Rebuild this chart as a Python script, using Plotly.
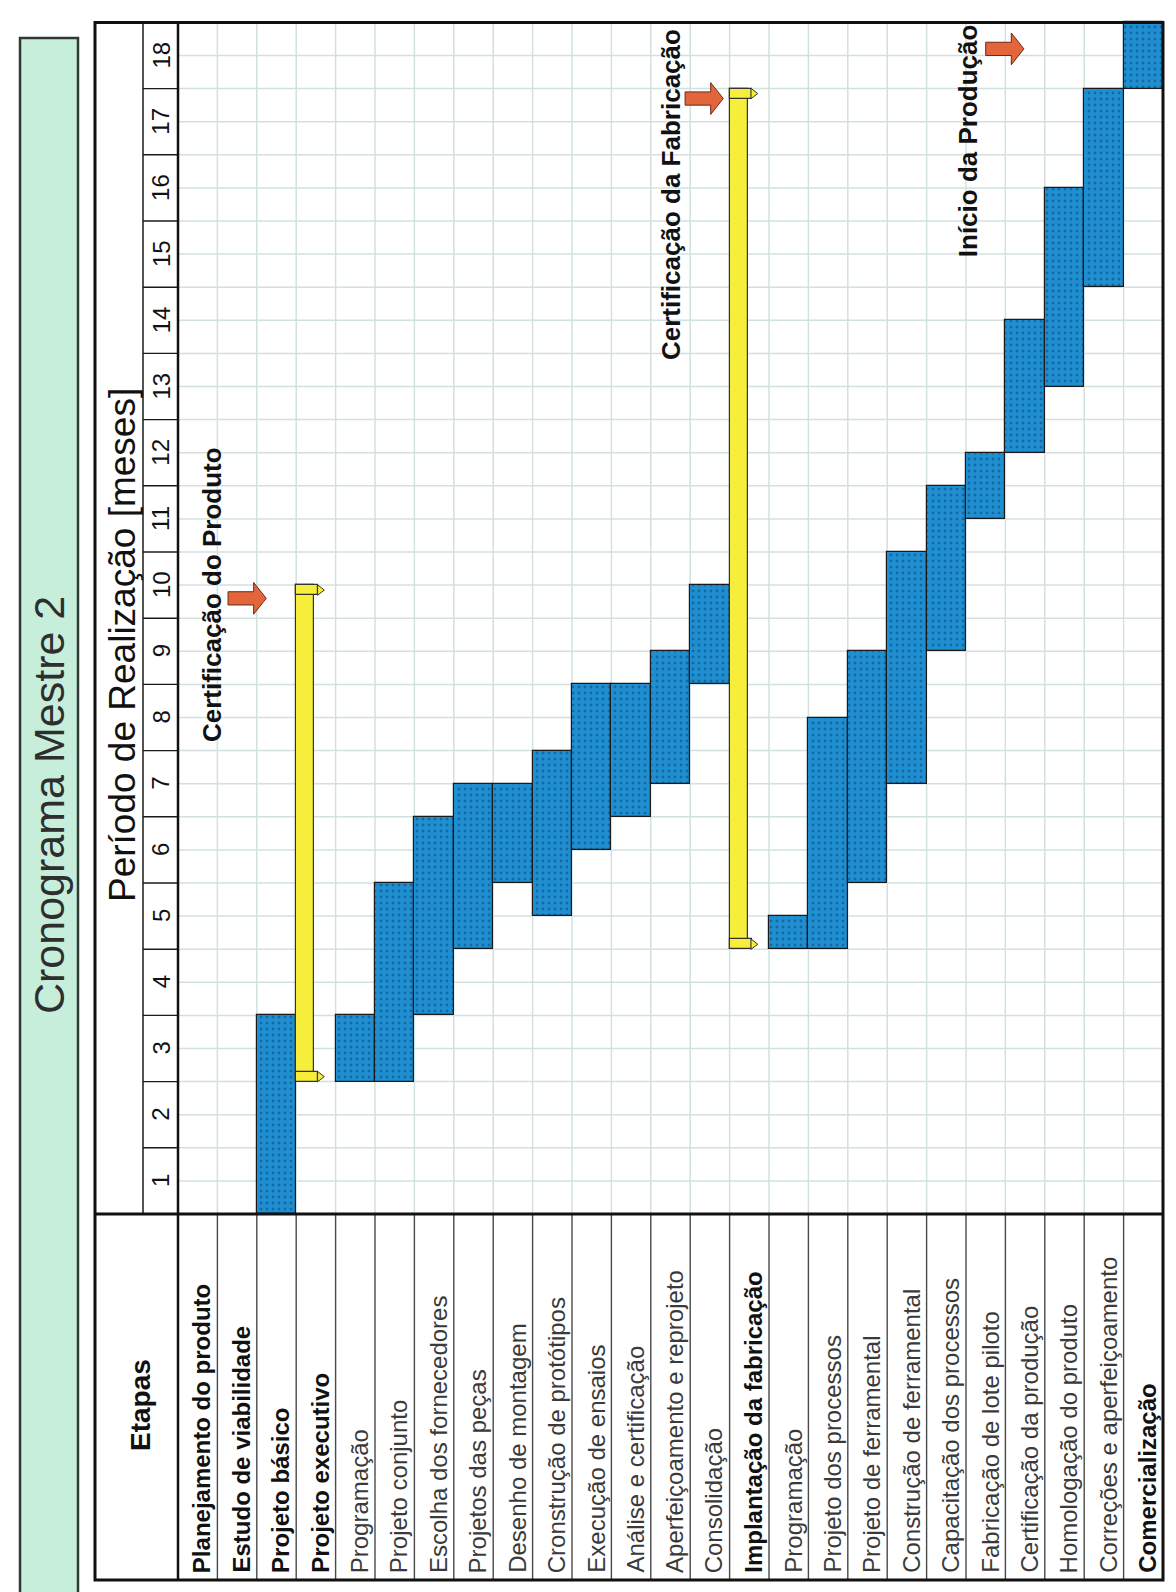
import plotly.graph_objects as go

# ---------------------------------------------------------------- data
etapas = [
    "Planejamento do produto", "Estudo de viabilidade", "Projeto básico", "Projeto executivo",
    "Programação", "Projeto conjunto", "Escolha dos fornecedores", "Projetos das peças",
    "Desenho de montagem", "Cronstrução de protótipos", "Execução de ensaios",
    "Análise e certificação", "Aperfeiçoamento e reprojeto", "Consolidação",
    "Implantação da fabricação", "Programação", "Projeto dos processos",
    "Projeto de ferramental", "Construção de ferramental", "Capacitação dos processos",
    "Fabricação de lote piloto", "Certificação da produção", "Homologação do produto",
    "Correções e aperfeiçoamento", "Comercialização",
]
etapas_destaque = [0, 1, 2, 3, 14, 24]          # rows written in bold

# activities: row index, start and end (months elapsed, 0 = start of month 1)
tarefa_linha = [2, 4, 5, 6, 7, 8, 9, 10, 11, 12, 13, 15, 16, 17, 18, 19, 20, 21, 22, 23, 24]
tarefa_inicio = [0, 2, 2, 3, 4, 5, 4.5, 5.5, 6, 6.5, 8, 4, 4, 5, 6.5, 8.5, 10.5, 11.5, 12.5, 14, 17]
tarefa_fim = [3, 3, 5, 6, 6.5, 6.5, 7, 8, 8, 8.5, 9.5, 4.5, 7.5, 8.5, 10, 11, 11.5, 13.5, 15.5, 17, 18]

# summary phases
fase_linha = [3, 14]
fase_inicio = [2, 4]
fase_fim = [9.5, 17]

meses = list(range(1, 19))

# milestones
marcos = ["Certificação do Produto", "Certificação da Fabricação", "Início da Produção"]
marco_mes = [9.3, 16.85, 17.6]

# ---------------------------------------------------------------- geometry
W, H = 1176, 1592
GRID_LEFT, ROW_PX = 178, 39.4
GRID_BOTTOM, MONTH_PX = 1214, 66.2


def cx(px):
    return (px - GRID_LEFT) / ROW_PX - 0.5


def my(py):
    return (GRID_BOTTOM - py) / MONTH_PX


FONT = "Liberation Sans, Arial, sans-serif"
AZUL = "#1f8fd2"
AMARELO = "#f7ee3c"
LARANJA = "#e2653b"
N = len(etapas)
NM = len(meses)

fig = go.Figure()

# activity bars (dotted blue)
fig.add_trace(go.Bar(
    x=tarefa_linha, base=tarefa_inicio,
    y=[f - i for i, f in zip(tarefa_inicio, tarefa_fim)],
    width=1.0,
    marker=dict(color=AZUL, line=dict(color="#1a1a1a", width=1.2),
                pattern=dict(shape=".", bgcolor=AZUL, fgcolor="#1668a3",
                             size=6, solidity=0.18, fillmode="replace")),
    hoverinfo="skip",
))

# summary bars (yellow) with end caps
fig.add_trace(go.Bar(
    x=fase_linha, base=fase_inicio,
    y=[f - i for i, f in zip(fase_inicio, fase_fim)],
    width=0.46, offset=-0.5,
    marker=dict(color=AMARELO, line=dict(color="#333333", width=1.2)),
    hoverinfo="skip",
))
CAP = 0.15
fig.add_trace(go.Bar(
    x=fase_linha + fase_linha,
    base=fase_inicio + [f - CAP for f in fase_fim],
    y=[CAP] * (2 * len(fase_linha)),
    width=0.56, offset=-0.5,
    marker=dict(color=AMARELO, line=dict(color="#333333", width=1.2)),
    hoverinfo="skip",
))
fig.add_trace(go.Scatter(
    x=[l + 0.1 for l in fase_linha] * 2,
    y=[s + CAP / 2 for s in fase_inicio] + [f - CAP / 2 for f in fase_fim],
    mode="markers",
    marker=dict(symbol="triangle-right", size=9, color=AMARELO,
                line=dict(color="#333333", width=1)),
    hoverinfo="skip",
))

# milestone arrows (block arrows pointing toward the phase bars)
seta_cauda = [0.77, 12.37, 20.0]
SETA_L, SETA_HL, SETA_SH, SETA_HH = 0.97, 0.32, 0.1, 0.24
for xt, m in zip(seta_cauda, marco_mes):
    xn = xt + SETA_L - SETA_HL
    xs = [xt, xn, xn, xt + SETA_L, xn, xn, xt, xt]
    ys = [m - SETA_SH, m - SETA_SH, m - SETA_HH, m, m + SETA_HH, m + SETA_SH, m + SETA_SH, m - SETA_SH]
    fig.add_trace(go.Scatter(x=xs, y=ys, mode="lines", fill="toself",
                             fillcolor=LARANJA, line=dict(color="#6a2a18", width=1),
                             hoverinfo="skip"))

# ---------------------------------------------------------------- table frame
shapes = []
GRID_C = "#d2e0e0"
# light grid: one column per task, two cells per month
for i in range(1, N):
    shapes.append(dict(type="line", x0=i - 0.5, x1=i - 0.5, y0=0, y1=NM,
                       line=dict(color=GRID_C, width=1.5), layer="below"))
for k in range(1, 2 * NM):
    shapes.append(dict(type="line", x0=-0.5, x1=N - 0.5, y0=k / 2, y1=k / 2,
                       line=dict(color=GRID_C, width=1.5), layer="below"))

# task-name cells
for i in range(1, N):
    shapes.append(dict(type="line", x0=i - 0.5, x1=i - 0.5, y0=my(1580), y1=0,
                       line=dict(color="#4a4a4a", width=1.4)))
# month header cells
for k in range(1, NM):
    shapes.append(dict(type="line", x0=cx(143), x1=-0.5, y0=k, y1=k,
                       line=dict(color="#1a1a1a", width=1.4)))
shapes.append(dict(type="line", x0=cx(143), x1=cx(143), y0=0, y1=NM,
                   line=dict(color="#1a1a1a", width=1.5)))
# heavy separators and outer frame
shapes.append(dict(type="line", x0=cx(95), x1=N - 0.5, y0=0, y1=0,
                   line=dict(color="#111111", width=3)))
shapes.append(dict(type="line", x0=-0.5, x1=-0.5, y0=my(1580), y1=NM,
                   line=dict(color="#111111", width=2.5)))
shapes.append(dict(type="rect", x0=cx(95), x1=N - 0.5, y0=my(1580), y1=NM,
                   line=dict(color="#111111", width=3), fillcolor="rgba(0,0,0,0)"))
# green title strip
shapes.append(dict(type="rect", x0=cx(20), x1=cx(78), y0=my(1600), y1=my(38),
                   line=dict(color="#2f3a33", width=2.5), fillcolor="#c6eedb", layer="below"))

# ---------------------------------------------------------------- texts
ann = []
ann.append(dict(x=cx(49), y=my(805), text="Cronograma Mestre 2", textangle=-90,
                showarrow=False, font=dict(family=FONT, size=43, color="#2e2e2e")))
ann.append(dict(x=cx(122), y=my(645), text="Período de Realização [meses]", textangle=-90,
                showarrow=False, font=dict(family=FONT, size=37, color="#111111")))
ann.append(dict(x=cx(140), y=my(1405), text="<b>Etapas</b>", textangle=-90,
                showarrow=False, font=dict(family=FONT, size=28, color="#111111")))
for k, mes in enumerate(meses):
    ann.append(dict(x=cx(161), y=k + 0.5, text=str(mes), textangle=-90, showarrow=False,
                    font=dict(family=FONT, size=24, color="#111111")))
for i, nome in enumerate(etapas):
    negrito = i in etapas_destaque
    ann.append(dict(x=i + 0.1, y=my(1575), yanchor="bottom",
                    text=f"<b>{nome}</b>" if negrito else nome, textangle=-90,
                    showarrow=False,
                    font=dict(family=FONT, size=24, color="#111111" if negrito else "#3a3a3a")))
marco_txt_x = [0.38, 12.0, 19.55]
marco_txt_y = [9.36, 15.4, 16.22]
for nome, xx, yy in zip(marcos, marco_txt_x, marco_txt_y):
    ann.append(dict(x=xx, y=yy, text=f"<b>{nome}</b>", textangle=-90, showarrow=False,
                    font=dict(family=FONT, size=26, color="#111111")))

fig.update_layout(
    width=W, height=H, margin=dict(l=0, r=0, t=0, b=0),
    paper_bgcolor="white", plot_bgcolor="white",
    showlegend=False, barmode="overlay", bargap=0,
    xaxis=dict(range=[cx(0), cx(W)], visible=False, fixedrange=True),
    yaxis=dict(range=[my(H), my(0)], visible=False, fixedrange=True),
    shapes=shapes, annotations=ann,
)

fig.write_html("out.html")
